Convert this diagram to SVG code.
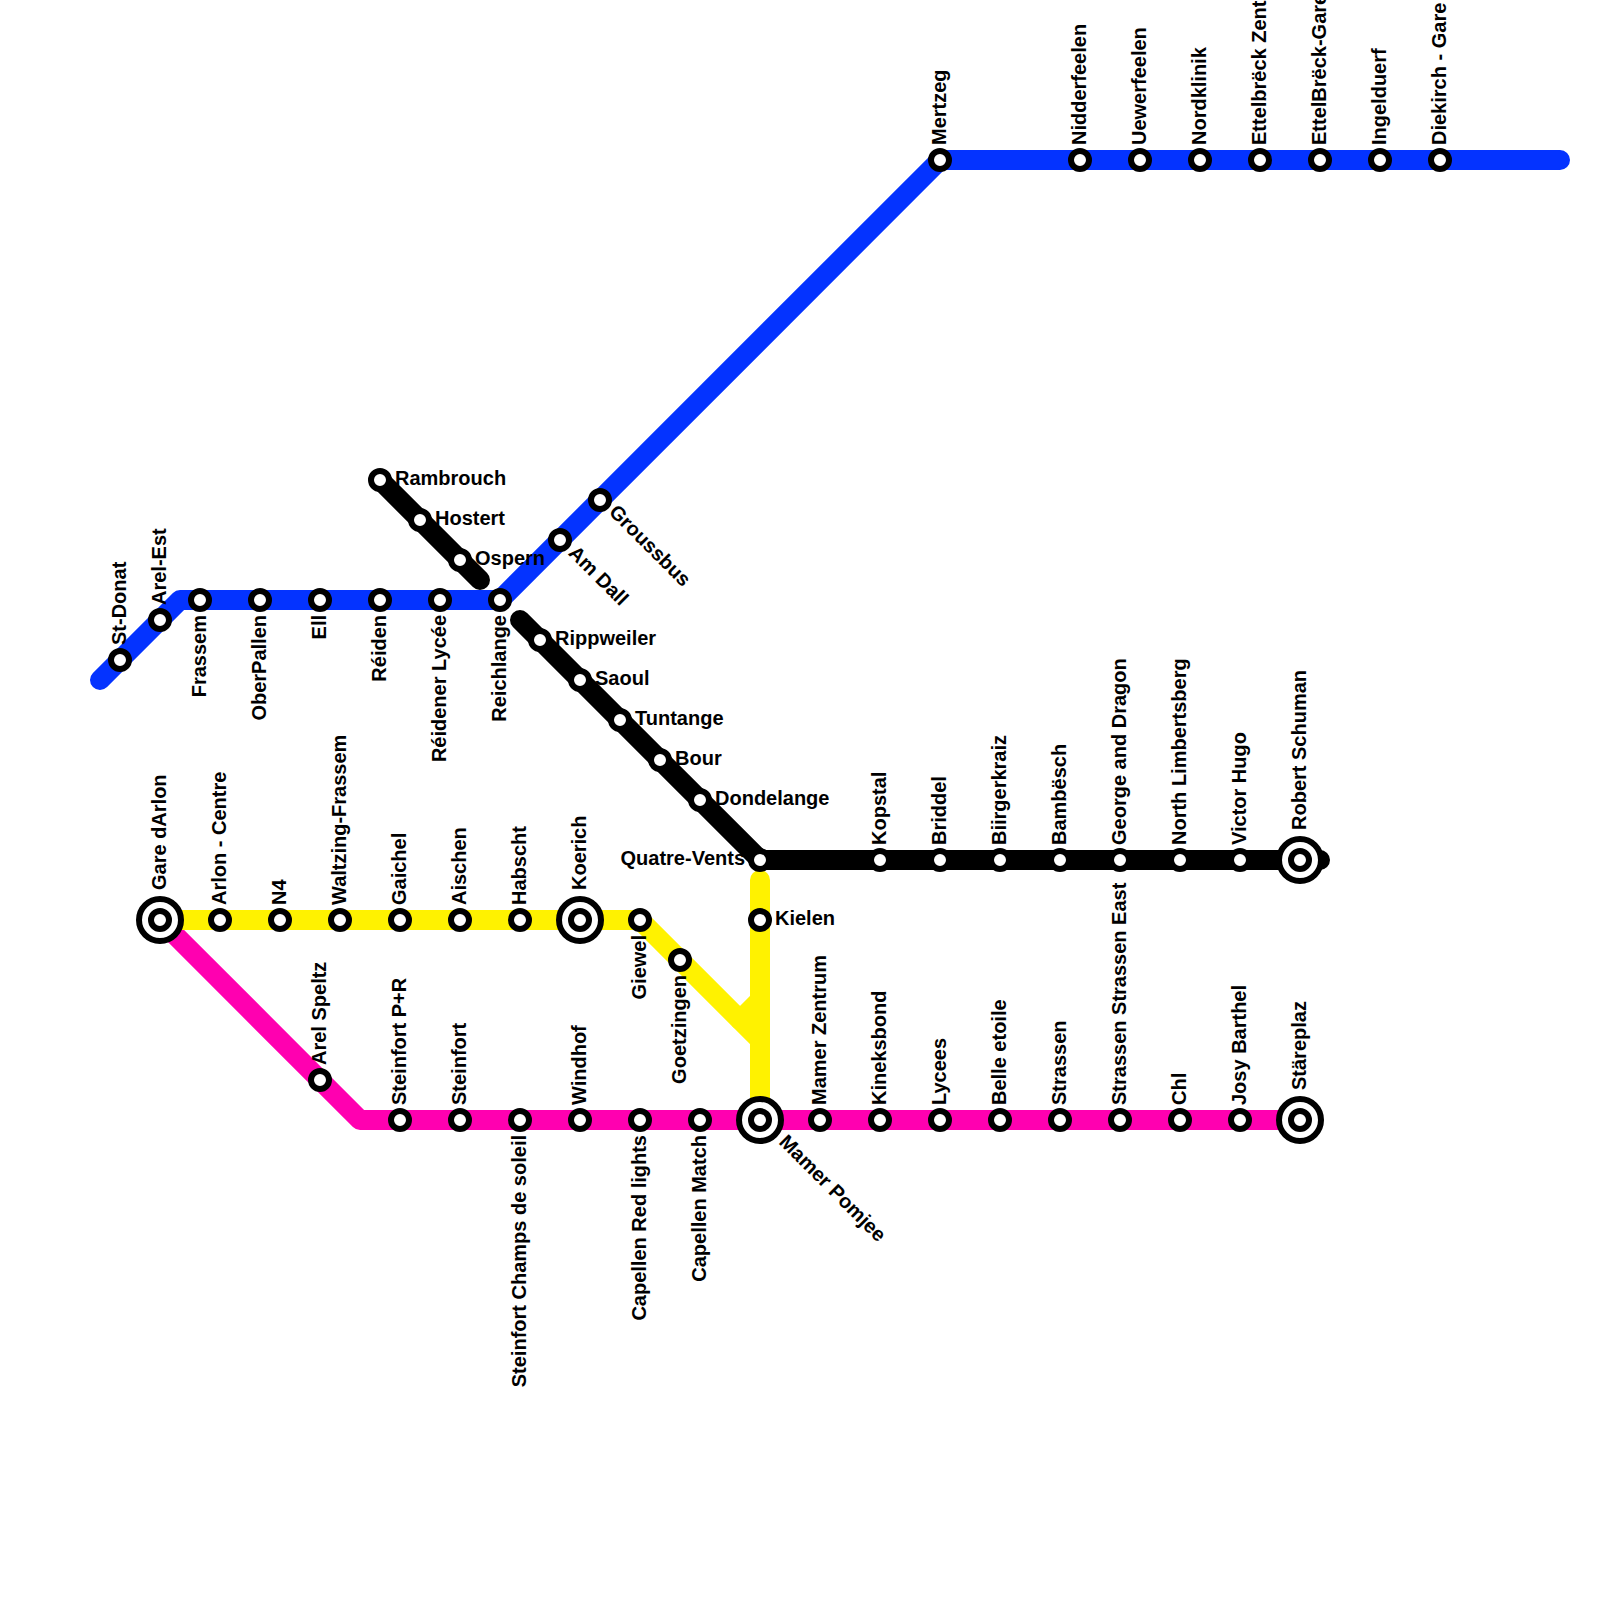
<svg xmlns="http://www.w3.org/2000/svg" width="1600" height="1600" viewBox="0 0 1600 1600">
<style>
.l{fill:none;stroke-width:20;stroke-linecap:round;stroke-linejoin:round}
.blue{stroke:#0433ff}.black{stroke:#000}.yellow{stroke:#fff200}.pink{stroke:#ff00b0}
circle{fill:#fff;stroke:#000;stroke-width:6}
text{font-family:"Liberation Sans",Arial,sans-serif;font-weight:bold;font-size:20px;fill:#000}
.e{text-anchor:end}
</style>
<defs>
<g id="st"><circle r="9"/></g>
<g id="ic"><circle r="21"/><circle r="9"/></g>
</defs>
<rect width="1600" height="1600" fill="#fff"/>
<g id="connectors">
<path class="l blue" d="M100 680L180 600H500L940 160H1560"/>
<path class="l black" d="M380 480L480 580"/>
<path class="l black" d="M520 620L760 860H1320"/>
<path class="l pink" d="M160 920L360 1120H1300"/>
<path class="l yellow" d="M160 920H640L760 1040"/>
<path class="l yellow" d="M760 880V1120"/>
<path class="l yellow" d="M740 1020L760 1000"/>
</g>
<g id="stations">
<use id="n-st-donat" href="#st" x="120" y="660"/>
<use id="n-arel-est" href="#st" x="160" y="620"/>
<use id="n-frassem" href="#st" x="200" y="600"/>
<use id="n-oberpallen" href="#st" x="260" y="600"/>
<use id="n-ell" href="#st" x="320" y="600"/>
<use id="n-reiden" href="#st" x="380" y="600"/>
<use id="n-reidener" href="#st" x="440" y="600"/>
<use id="n-reichlange" href="#st" x="500" y="600"/>
<use id="n-amdall" href="#st" x="560" y="540"/>
<use id="n-groussbus" href="#st" x="600" y="500"/>
<use id="n-mertzeg" href="#st" x="940" y="160"/>
<use id="n-nidderfeelen" href="#st" x="1080" y="160"/>
<use id="n-uewerfeelen" href="#st" x="1140" y="160"/>
<use id="n-nordklinik" href="#st" x="1200" y="160"/>
<use id="n-ettel-zent" href="#st" x="1260" y="160"/>
<use id="n-ettel-gare" href="#st" x="1320" y="160"/>
<use id="n-ingelduerf" href="#st" x="1380" y="160"/>
<use id="n-diekirch" href="#st" x="1440" y="160"/>
<use id="n-rambrouch" href="#st" x="380" y="480"/>
<use id="n-hostert" href="#st" x="420" y="520"/>
<use id="n-ospern" href="#st" x="460" y="560"/>
<use id="n-rippweiler" href="#st" x="540" y="640"/>
<use id="n-saoul" href="#st" x="580" y="680"/>
<use id="n-tuntange" href="#st" x="620" y="720"/>
<use id="n-bour" href="#st" x="660" y="760"/>
<use id="n-dondelange" href="#st" x="700" y="800"/>
<use id="n-quatre" href="#st" x="760" y="860"/>
<use id="n-kopstal" href="#st" x="880" y="860"/>
<use id="n-briddel" href="#st" x="940" y="860"/>
<use id="n-biirger" href="#st" x="1000" y="860"/>
<use id="n-bambesch" href="#st" x="1060" y="860"/>
<use id="n-george" href="#st" x="1120" y="860"/>
<use id="n-north" href="#st" x="1180" y="860"/>
<use id="n-victor" href="#st" x="1240" y="860"/>
<use id="n-robert" href="#ic" x="1300" y="860"/>
<use id="n-gare-darlon" href="#ic" x="160" y="920"/>
<use id="n-arlon" href="#st" x="220" y="920"/>
<use id="n-n4" href="#st" x="280" y="920"/>
<use id="n-waltzing" href="#st" x="340" y="920"/>
<use id="n-gaichel" href="#st" x="400" y="920"/>
<use id="n-aischen" href="#st" x="460" y="920"/>
<use id="n-habscht" href="#st" x="520" y="920"/>
<use id="n-koerich" href="#ic" x="580" y="920"/>
<use id="n-giewel" href="#st" x="640" y="920"/>
<use id="n-goetzingen" href="#st" x="680" y="960"/>
<use id="n-kielen" href="#st" x="760" y="920"/>
<use id="n-arel-speltz" href="#st" x="320" y="1080"/>
<use id="n-steinfort-pr" href="#st" x="400" y="1120"/>
<use id="n-steinfort" href="#st" x="460" y="1120"/>
<use id="n-champs" href="#st" x="520" y="1120"/>
<use id="n-windhof" href="#st" x="580" y="1120"/>
<use id="n-redlights" href="#st" x="640" y="1120"/>
<use id="n-match" href="#st" x="700" y="1120"/>
<use id="n-mamer-pomjee" href="#ic" x="760" y="1120"/>
<use id="n-mamer-zentrum" href="#st" x="820" y="1120"/>
<use id="n-kineksbond" href="#st" x="880" y="1120"/>
<use id="n-lycees" href="#st" x="940" y="1120"/>
<use id="n-belle" href="#st" x="1000" y="1120"/>
<use id="n-strassen" href="#st" x="1060" y="1120"/>
<use id="n-strassen-east" href="#st" x="1120" y="1120"/>
<use id="n-chl" href="#st" x="1180" y="1120"/>
<use id="n-josy" href="#st" x="1240" y="1120"/>
<use id="n-stareplaz" href="#ic" x="1300" y="1120"/>
</g>
<g id="labels">
<text transform="translate(125.5 645) rotate(-90)">St-Donat</text>
<text transform="translate(165.5 605) rotate(-90)">Arel-Est</text>
<text class="e" transform="translate(205.5 615) rotate(-90)">Frassem</text>
<text class="e" transform="translate(265.5 615) rotate(-90)">OberPallen</text>
<text class="e" transform="translate(325.5 615) rotate(-90)">Ell</text>
<text class="e" transform="translate(385.5 615) rotate(-90)">Réiden</text>
<text class="e" transform="translate(445.5 615) rotate(-90)">Réidener Lycée</text>
<text class="e" transform="translate(505.5 615) rotate(-90)">Reichlange</text>
<text transform="translate(567.5 554) rotate(45)">Am Dall</text>
<text transform="translate(608 513) rotate(45)">Groussbus</text>
<text transform="translate(945.5 145) rotate(-90)">Mertzeg</text>
<text transform="translate(1085.5 145) rotate(-90)">Nidderfeelen</text>
<text transform="translate(1145.5 145) rotate(-90)">Uewerfeelen</text>
<text transform="translate(1205.5 145) rotate(-90)">Nordklinik</text>
<text transform="translate(1265.5 145) rotate(-90)">Ettelbrëck Zent</text>
<text transform="translate(1325.5 145) rotate(-90)">EttelBrëck-Gare</text>
<text transform="translate(1385.5 145) rotate(-90)">Ingelduerf</text>
<text transform="translate(1445.5 145) rotate(-90)">Diekirch - Gare</text>
<text x="395" y="485">Rambrouch</text>
<text x="435" y="525">Hostert</text>
<text x="475" y="565">Ospern</text>
<text x="555" y="645">Rippweiler</text>
<text x="595" y="685">Saoul</text>
<text x="635" y="725">Tuntange</text>
<text x="675" y="765">Bour</text>
<text x="715" y="805">Dondelange</text>
<text class="e" x="745" y="865">Quatre-Vents</text>
<text transform="translate(885.5 845) rotate(-90)">Kopstal</text>
<text transform="translate(945.5 845) rotate(-90)">Briddel</text>
<text transform="translate(1005.5 845) rotate(-90)">Biirgerkraiz</text>
<text transform="translate(1065.5 845) rotate(-90)">Bambësch</text>
<text transform="translate(1125.5 845) rotate(-90)">George and Dragon</text>
<text transform="translate(1185.5 845) rotate(-90)">North Limbertsberg</text>
<text transform="translate(1245.5 845) rotate(-90)">Victor Hugo</text>
<text transform="translate(1305.5 830) rotate(-90)">Robert Schuman</text>
<text transform="translate(165.5 890) rotate(-90)">Gare dArlon</text>
<text transform="translate(225.5 905) rotate(-90)">Arlon - Centre</text>
<text transform="translate(285.5 905) rotate(-90)">N4</text>
<text transform="translate(345.5 905) rotate(-90)">Waltzing-Frassem</text>
<text transform="translate(405.5 905) rotate(-90)">Gaichel</text>
<text transform="translate(465.5 905) rotate(-90)">Aischen</text>
<text transform="translate(525.5 905) rotate(-90)">Habscht</text>
<text transform="translate(585.5 890) rotate(-90)">Koerich</text>
<text class="e" transform="translate(645.5 935) rotate(-90)">Giewel</text>
<text class="e" transform="translate(685.5 975) rotate(-90)">Goetzingen</text>
<text x="775" y="925">Kielen</text>
<text transform="translate(325.5 1065) rotate(-90)">Arel Speltz</text>
<text transform="translate(405.5 1105) rotate(-90)">Steinfort P+R</text>
<text transform="translate(465.5 1105) rotate(-90)">Steinfort</text>
<text class="e" transform="translate(525.5 1135) rotate(-90)">Steinfort Champs de soleil</text>
<text transform="translate(585.5 1105) rotate(-90)">Windhof</text>
<text class="e" transform="translate(645.5 1135) rotate(-90)">Capellen Red lights</text>
<text class="e" transform="translate(705.5 1135) rotate(-90)">Capellen Match</text>
<text transform="translate(778 1143) rotate(45)">Mamer Pomjee</text>
<text transform="translate(825.5 1105) rotate(-90)">Mamer Zentrum</text>
<text transform="translate(885.5 1105) rotate(-90)">Kineksbond</text>
<text transform="translate(945.5 1105) rotate(-90)">Lycees</text>
<text transform="translate(1005.5 1105) rotate(-90)">Belle etoile</text>
<text transform="translate(1065.5 1105) rotate(-90)">Strassen</text>
<text transform="translate(1125.5 1105) rotate(-90)">Strassen Strassen East</text>
<text transform="translate(1185.5 1105) rotate(-90)">Chl</text>
<text transform="translate(1245.5 1105) rotate(-90)">Josy Barthel</text>
<text transform="translate(1305.5 1090) rotate(-90)">Stäreplaz</text>
</g>
</svg>
